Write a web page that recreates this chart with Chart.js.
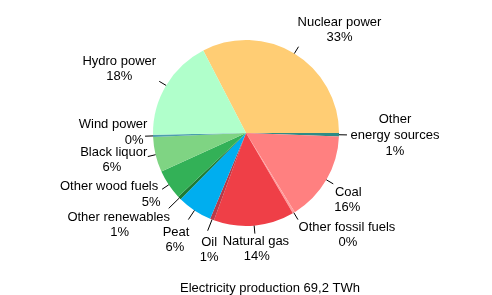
<!DOCTYPE html>
<html>
<head>
<meta charset="utf-8">
<script src="https://cdn.jsdelivr.net/npm/chart.js@4/dist/chart.umd.min.js"></script>
<style>
  body { margin: 0; background: #fff; }
  #wrap { width: 492px; height: 295px; }
</style>
</head>
<body>
<div id="wrap"><canvas id="pieChart" width="492" height="295"></canvas></div>
<script>
// electricity production by source, % of 69,2 TWh
const categories = ['Nuclear power', 'Other energy sources', 'Coal', 'Other fossil fuels', 'Natural gas', 'Oil',
    'Peat', 'Other renewables', 'Other wood fuels', 'Black liquor', 'Wind power', 'Hydro power'];
const shares = [32.6, 0.6, 15.6, 0.4, 14.0, 0.7, 6.1, 0.6, 5.2, 6.1, 0.4, 17.7];
const labelLines = [['Nuclear power'], ['Other', 'energy sources'], ['Coal'], ['Other fossil fuels'], ['Natural gas'], ['Oil'],
    ['Peat'], ['Other renewables'], ['Other wood fuels'], ['Black liquor'], ['Wind power'], ['Hydro power']];
const chartTitle = 'Electricity production 69,2 TWh';

const sliceColors = ['#ffcd74', '#2e8b86', '#ff8080', '#ff9c9c', '#ef3f47', '#b83a48',
    '#00aeef', '#1d7a34', '#33b157', '#7fd483', '#4a9fae', '#b0ffcb'];

// text line centres, relative to the end of each leader line
const labelOffsets = [
    [[41, -24], [41, -9]],
    [[48, -15], [48, 1], [48, 17]],
    [[15, 9], [14, 24]],
    [[49, 8], [50, 23]],
    [[1, 8], [2, 23]],
    [[0, 15], [0, 30]],
    [[-14, 15], [-15, 30]],
    [[-55, 14], [-54, 29]],
    [[-53, -3], [-11, 13]],
    [[-34, -4], [-36, 11]],
    [[-32, -12], [-11, 4]],
    [[-40, -20], [-40, -5]]
];
const leaderLen = [8, 8, 8, 8, 8, 12, 11, 15, 8, 8, 8, 8];

const labelPlugin = {
    id: 'sliceLabels',
    afterDraw(chart) {
        const ctx = chart.ctx;
        const arcs = chart.getDatasetMeta(0).data;
        ctx.save();
        ctx.font = '13px "Liberation Sans", Arial, sans-serif';
        ctx.fillStyle = '#000';
        ctx.strokeStyle = '#000';
        ctx.lineWidth = 1;
        ctx.textAlign = 'center';
        ctx.textBaseline = 'middle';
        arcs.forEach((arc, i) => {
            const p = arc.getProps(['x', 'y', 'startAngle', 'endAngle', 'outerRadius'], true);
            const a = (p.startAngle + p.endAngle) / 2;
            const cx = Math.cos(a), cy = Math.sin(a);
            ctx.beginPath();
            ctx.moveTo(p.x + cx * p.outerRadius, p.y + cy * p.outerRadius);
            ctx.lineTo(p.x + cx * (p.outerRadius + leaderLen[i]), p.y + cy * (p.outerRadius + leaderLen[i]));
            ctx.stroke();
            const ex = p.x + cx * (p.outerRadius + 8);
            const ey = p.y + cy * (p.outerRadius + 8);
            const lines = labelLines[i].concat([Math.round(shares[i]) + '%']);
            lines.forEach((txt, j) => {
                const off = labelOffsets[i][j];
                ctx.fillText(txt, ex + off[0], ey + off[1]);
            });
        });
        ctx.fillText(chartTitle, 270, 288);
        ctx.restore();
    }
};

const pieChart = new Chart(document.getElementById('pieChart'), {
    type: 'pie',
    data: {
        labels: categories,
        datasets: [{
            data: shares,
            backgroundColor: sliceColors,
            borderWidth: 0
        }]
    },
    options: {
        responsive: false,
        animation: false,
        rotation: 90 - shares[0] * 3.6,
        layout: { padding: { top: 40, bottom: 69, left: 100, right: 100 } },
        plugins: {
            legend: { display: false },
            tooltip: { enabled: false }
        }
    },
    plugins: [labelPlugin]
});
</script>
</body>
</html>
